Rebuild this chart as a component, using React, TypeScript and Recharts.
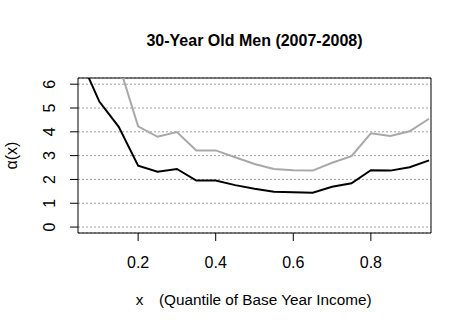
import { LineChart, Line, XAxis, YAxis, CartesianGrid, ReferenceArea } from 'recharts'

const quantiles = [0.05, 0.1, 0.15, 0.2, 0.25, 0.3, 0.35, 0.4, 0.45, 0.5, 0.55, 0.6, 0.65, 0.7, 0.75, 0.8, 0.85, 0.9, 0.95]
const blackVals = [7.1, 5.27, 4.21, 2.58, 2.32, 2.44, 1.95, 1.95, 1.76, 1.61, 1.48, 1.46, 1.44, 1.69, 1.84, 2.39, 2.37, 2.51, 2.8]
const grayVals = [9.5, 8.2, 6.85, 4.23, 3.79, 3.99, 3.22, 3.22, 2.93, 2.65, 2.44, 2.39, 2.37, 2.7, 2.98, 3.94, 3.82, 4.02, 4.55]
const xTicks = [0.2, 0.4, 0.6, 0.8]
const yTicks = [0, 1, 2, 3, 4, 5, 6]

const FONT = '"Liberation Sans", Arial, sans-serif'
const X_DOMAIN: [number, number] = [0.045, 0.955]
const Y_DOMAIN: [number, number] = [-0.25, 6.26]

const data = quantiles.map((q, i) => ({ q, black: blackVals[i], gray: grayVals[i] }))

function XTick({ x, y, payload }: any) {
  return (
    <text x={x} y={y + 25} textAnchor="middle" fontSize={16} fontFamily={FONT} fill="#000">
      {payload.value.toFixed(1)}
    </text>
  )
}

function YTick({ x, y, payload }: any) {
  const bx = x - 13
  return (
    <text x={bx} y={y} transform={`rotate(-90, ${bx}, ${y})`} textAnchor="middle" fontSize={16} fontFamily={FONT} fill="#000">
      {payload.value}
    </text>
  )
}

function XLabel({ viewBox }: any) {
  const cx = viewBox.x + viewBox.width / 2
  return (
    <g fontSize={15.3} fontFamily={FONT} fill="#000">
      <text x={cx - 115} y={305} textAnchor="middle">x</text>
      <text x={cx - 95.5} y={305} textAnchor="start">(Quantile of Base Year Income)</text>
    </g>
  )
}

function YLabel({ viewBox }: any) {
  const cy = viewBox.y + viewBox.height / 2
  return (
    <text x={17} y={cy} transform={`rotate(-90, 17, ${cy})`} textAnchor="middle" fontSize={16} fontFamily={FONT} fill="#000">
      α(x)
    </text>
  )
}

export default function App() {
  return (
    <div style={{ position: 'absolute', left: 0, top: 0, width: 472, height: 331, background: '#fff' }}>
      <LineChart width={472} height={331} data={data} margin={{ top: 78, right: 41, bottom: 0, left: 0 }}>
        <CartesianGrid vertical={false} stroke="#a0a0a0" strokeDasharray="2 2" />
        <XAxis
          dataKey="q"
          type="number"
          domain={X_DOMAIN}
          ticks={xTicks}
          allowDataOverflow
          height={98}
          tickSize={8}
          axisLine={false}
          tickLine={{ stroke: '#000' }}
          tick={<XTick />}
          label={<XLabel />}
        />
        <YAxis
          type="number"
          domain={Y_DOMAIN}
          ticks={yTicks}
          allowDataOverflow
          width={78}
          tickSize={8}
          axisLine={false}
          tickLine={{ stroke: '#000' }}
          tick={<YTick />}
          label={<YLabel />}
        />
        <Line type="linear" dataKey="gray" stroke="#a8a8a8" strokeWidth={2} dot={false} isAnimationActive={false} />
        <Line type="linear" dataKey="black" stroke="#000" strokeWidth={2} dot={false} isAnimationActive={false} />
        <ReferenceArea x1={X_DOMAIN[0]} x2={X_DOMAIN[1]} y1={Y_DOMAIN[0]} y2={Y_DOMAIN[1]} fill="none" stroke="#000" strokeWidth={1} fillOpacity={0} />
      </LineChart>
      <svg width={472} height={60} style={{ position: 'absolute', left: 0, top: 0 }}>
        <text x={254.5} y={46} textAnchor="middle" fontSize={16} fontWeight="bold" fontFamily={FONT} fill="#000">
          30-Year Old Men (2007-2008)
        </text>
      </svg>
    </div>
  )
}
